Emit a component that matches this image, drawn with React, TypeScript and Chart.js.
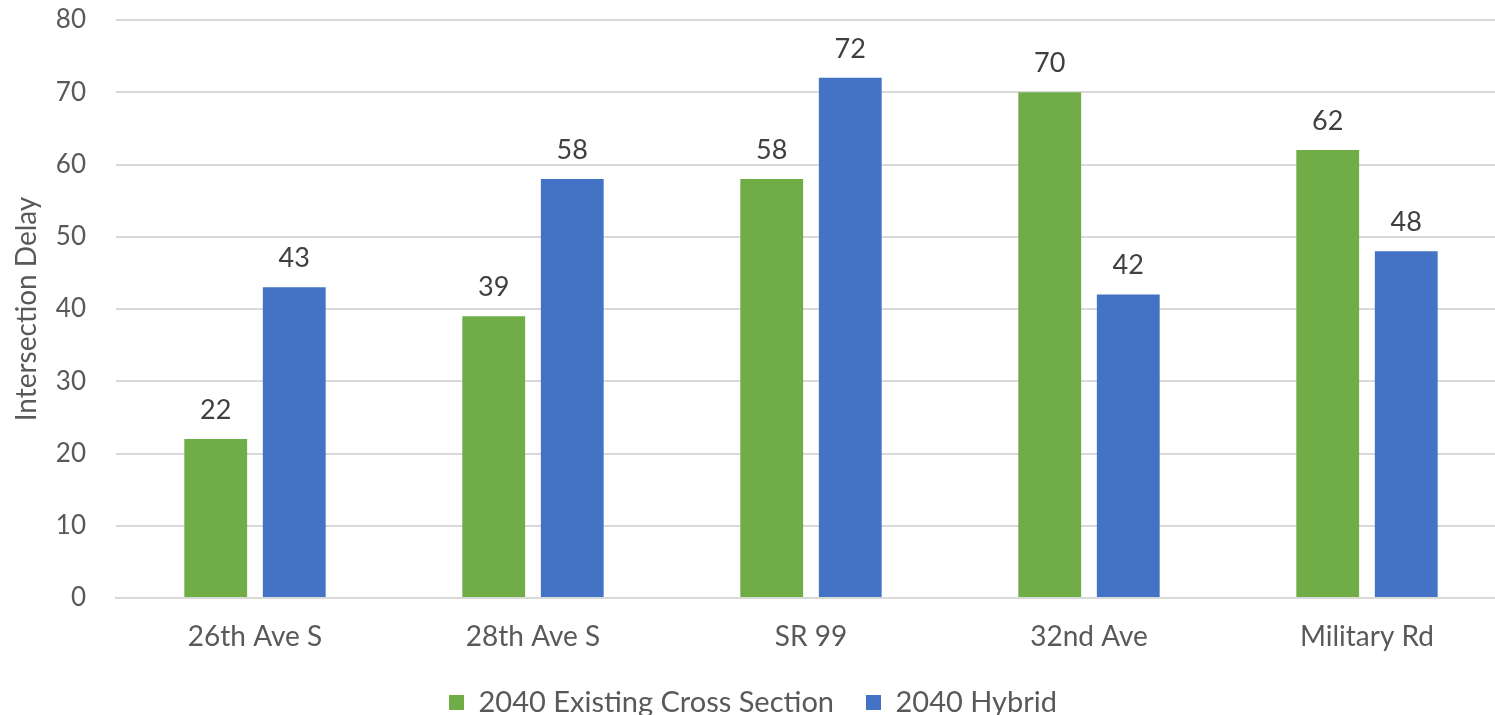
import React, { useEffect, useRef } from "react";
import { Chart, registerables } from "chart.js";

Chart.register(...registerables);

const categories = ["26th Ave S", "28th Ave S", "SR 99", "32nd Ave", "Military Rd"];
const existingValues = [22, 39, 58, 70, 62];
const hybridValues = [43, 58, 72, 42, 48];
const seriesNames = ["2040 Existing Cross Section", "2040 Hybrid"];
const yTicks = [0, 10, 20, 30, 40, 50, 60, 70, 80];

const FONT = "Lato, 'Open Sans', sans-serif";

const dataLabelPlugin = {
  id: "dataLabels",
  afterDatasetsDraw(chart: any) {
    const ctx = chart.ctx;
    ctx.save();
    ctx.font = `27px ${FONT}`;
    ctx.fillStyle = "#404040";
    ctx.textAlign = "center";
    ctx.textBaseline = "middle";
    chart.data.datasets.forEach((ds: any, i: number) => {
      const meta = chart.getDatasetMeta(i);
      meta.data.forEach((bar: any, j: number) => {
        ctx.fillText(String(ds.data[j]), bar.x, bar.y - 29);
      });
    });
    ctx.restore();
  },
};

export default function App() {
  const ref = useRef<HTMLCanvasElement>(null);
  useEffect(() => {
    document.body.style.overflow = "hidden";
    const chart = new Chart(ref.current!, {
      type: "bar",
      data: {
        labels: categories,
        datasets: [
          {
            label: seriesNames[0],
            data: existingValues,
            backgroundColor: "#70AD47",
            categoryPercentage: 0.565,
            barPercentage: 0.8,
          },
          {
            label: seriesNames[1],
            data: hybridValues,
            backgroundColor: "#4472C4",
            categoryPercentage: 0.565,
            barPercentage: 0.8,
          },
        ],
      },
      options: {
        responsive: false,
        animation: false,
        layout: { padding: { top: 20, left: 0, right: 0, bottom: 0 } },
        plugins: {
          legend: {
            position: "bottom",
            labels: {
              boxWidth: 15,
              boxHeight: 15,
              padding: 32,
              color: "#595959",
              font: { family: FONT, size: 29 },
            },
          },
          tooltip: { enabled: false },
        },
        scales: {
          x: {
            grid: { display: false, drawTicks: false },
            border: { display: true, color: "#D9D9D9", width: 2 },
            ticks: {
              color: "#595959",
              padding: 22,
              font: { family: FONT, size: 28 },
            },
            afterFit: (scale: any) => {
              scale.height = 58;
              scale.paddingLeft = 0;
              scale.paddingRight = 0;
            },
          },
          y: {
            min: 0,
            max: 80,
            afterBuildTicks: (scale: any) => {
              scale.ticks = yTicks.map((v) => ({ value: v }));
            },
            grid: { color: "#D9D9D9", lineWidth: 2, drawTicks: false },
            border: { display: false },
            ticks: {
              color: "#595959",
              padding: 30,
              font: { family: FONT, size: 26 },
            },
            title: {
              display: true,
              text: "Intersection Delay",
              color: "#595959",
              font: { family: FONT, size: 28 },
              padding: { top: 10, bottom: 0 },
            },
            afterFit: (scale: any) => {
              scale.width = 116;
              scale.paddingTop = 0;
              scale.paddingBottom = 0;
            },
          },
        },
      },
      plugins: [dataLabelPlugin],
    });
    return () => chart.destroy();
  }, []);
  return (
    <div style={{ position: "fixed", left: 0, top: 0 }}>
      <canvas ref={ref} width={1506} height={727} style={{ display: "block" }} />
    </div>
  );
}
